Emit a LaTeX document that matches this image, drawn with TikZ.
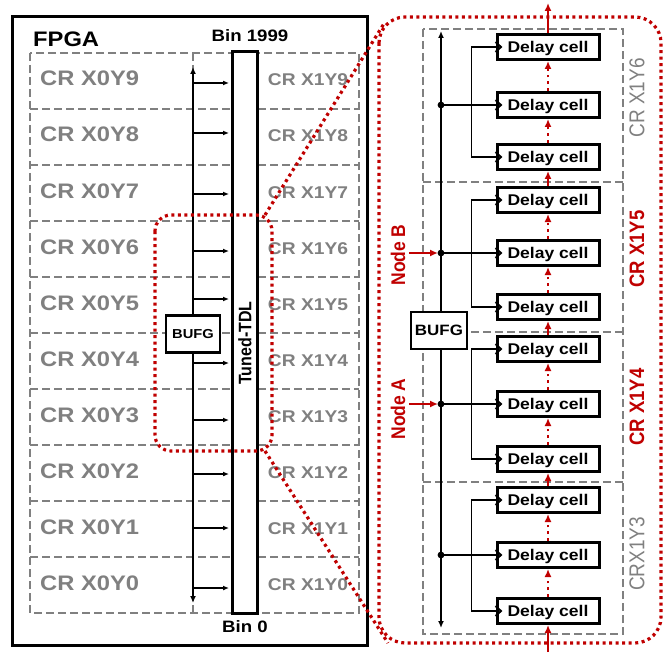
\documentclass[tikz,border=0pt]{standalone}
\usepackage{fontspec}
\setmainfont{Liberation Sans}
\usepackage{graphicx}
\usetikzlibrary{arrows.meta}
\definecolor{dred}{RGB}{192,0,0}
\definecolor{cgray}{RGB}{128,128,128}
\newcommand{\myhs}[1]{\scalebox{1.13}[1]{#1}}
\newcommand{\myvs}[1]{\scalebox{1}[1.13]{#1}}
\newcommand{\fsz}[1]{\fontsize{#1}{#1}\selectfont}
\begin{document}
\begin{tikzpicture}[x=1pt,y=-1pt,
  gdash/.style={draw=cgray, line width=2.4pt, dash pattern=on 8pt off 4pt},
  rdot/.style={draw=dred, line width=3.2pt, dash pattern=on 3pt off 3.5pt},
  rdotthin/.style={draw=dred, line width=2.8pt, dash pattern=on 2.8pt off 4pt},
  wire/.style={draw=black, line width=1.6pt},
  bus/.style={draw=black, line width=2.4pt},
  btip/.style={-{Latex[length=7pt,width=6pt]}},
  stip/.style={-{Latex[length=6pt,width=5pt]}},
  rtip/.style={-{Latex[length=8pt,width=7pt]}},
  cell/.style={draw, line width=3pt, fill=white, minimum width=102pt, minimum height=25pt, inner sep=0pt, text height=12pt, text depth=1.2pt, font=\bfseries\fsz{15.5}},
  bufg/.style={draw, line width=2.5pt, fill=white, inner sep=0pt, font=\bfseries},
  lgray/.style={text=cgray, inner sep=0pt, font=\bfseries\fsz{21}},
  rgray/.style={text=cgray, inner sep=0pt, font=\bfseries\fsz{17}},
  vlab/.style={rotate=90, inner sep=0pt, font=\fsz{19}},
  btxt/.style={inner sep=0pt, font=\bfseries}
]
\useasboundingbox (0,0) rectangle (668,652);
\fill[white] (0,0) rectangle (668,652);

% ---------------- left FPGA panel ----------------
\draw[line width=3pt] (12,17) rectangle (367,645);
\node[btxt, anchor=base west, font=\bfseries\fsz{21}] (fpga) at (33,47) {\myhs{FPGA}};
\node[btxt, anchor=base, font=\bfseries\fsz{16.5}] (bintop) at (250,42) {\myhs{Bin 1999}};
\node[btxt, anchor=base, font=\bfseries\fsz{16.5}] (binbot) at (245,632) {\myhs{Bin 0}};

% clock-region grid
\draw[gdash] (30,53) rectangle (359,613);
\foreach \k in {1,...,9} \draw[gdash] (30,53+56*\k) -- (359,53+56*\k);
\draw[gdash] (193,53) -- (193,613);

% labels
\foreach \r in {0,...,9} {
  \pgfmathtruncatemacro{\yy}{9-\r}
  \node[lgray, anchor=base west] (l\r) at (40,86+56*\r) {\myhs{CR X0Y\yy}};
  \node[rgray, anchor=base] (r\r) at (308,86+56*\r) {\myhs{CR X1Y\yy}};
}

% Tuned-TDL
\node[draw, line width=3pt, fill=white, minimum width=25pt, minimum height=561pt, inner sep=0pt] (tdl) at (244.5,332.5) {};
\node[rotate=90, btxt, font=\bfseries\fsz{16}] (tdllab) at (245,343) {\myvs{Tuned-TDL}};

% BUFG and bus
\node[bufg, minimum width=54pt, minimum height=37pt, font=\bfseries\fsz{13}] (bufgL) at (193,334) {\myhs{BUFG}};
\coordinate (busT) at (193,67);
\coordinate (busB) at (193,603);
\draw[bus, btip] (bufgL.north) -- (busT);
\draw[bus, btip] (bufgL.south) -- (busB);
\foreach \y [count=\i] in {83,133,194,251,299,363,420,474,528,588} {
  \coordinate (ha\i) at (193,\y);
  \coordinate (hb\i) at (tdl.west |- ha\i);
  \draw[wire, stip] (ha\i) -- ([xshift=-1.5pt]hb\i);
}

% ---------------- right detail panel ----------------
\draw[gdash] (423,29) rectangle (623,634);
\draw[gdash] (423,182) -- (623,182);
\draw[gdash] (423,332) -- (623,332);
\draw[gdash] (423,482) -- (623,482);

\node[bufg, minimum width=56pt, minimum height=37pt, font=\bfseries\fsz{15}] (bufgR) at (439,330.5) {\myhs{BUFG}};
\coordinate (rbusT) at (441,31);
\coordinate (rbusB) at (441,628);
\draw[bus, line width=2.6pt, btip] (bufgR.north -| rbusT) -- (rbusT);
\draw[bus, line width=2.6pt, btip] (bufgR.south -| rbusB) -- (rbusB);

\foreach \g/\a/\b/\c in {1/47/105/157, 2/200/253/307, 3/349/404/459, 4/500/555/611} {
  \node[cell] (c\g a) at (548,\a) {\myhs{Delay cell}};
  \node[cell] (c\g b) at (548,\b) {\myhs{Delay cell}};
  \node[cell] (c\g c) at (548,\c) {\myhs{Delay cell}};
  \coordinate (d\g) at (441,\b);
  \fill (d\g) circle (3.4pt);
  \draw[wire] (d\g) -- (c\g b.west);
  \draw[wire] (c\g a.west) -- ++(-24,0) |- (c\g c.west);
  \foreach \s in {a,b,c}
    \draw[line width=1.9pt] ([yshift=-5pt]c\g\s.west) -- ([xshift=5.5pt]c\g\s.west) -- ([yshift=5pt]c\g\s.west);
}

% red propagation chain
\coordinate (rin) at (548,652);
\coordinate (rout) at (548,3);
\draw[draw=dred, line width=2.5pt, rtip] (rin) -- (c4c.south);
\draw[rdotthin, rtip] (c4c.north) -- (c4b.south);
\draw[rdotthin, rtip] (c4b.north) -- (c4a.south);
\draw[draw=dred, line width=2.5pt, rtip] (c4a.north) -- (c3c.south);
\draw[rdotthin, rtip] (c3c.north) -- (c3b.south);
\draw[rdotthin, rtip] (c3b.north) -- (c3a.south);
\draw[draw=dred, line width=2.5pt, rtip] (c3a.north) -- (c2c.south);
\draw[rdotthin, rtip] (c2c.north) -- (c2b.south);
\draw[rdotthin, rtip] (c2b.north) -- (c2a.south);
\draw[draw=dred, line width=2.5pt, rtip] (c2a.north) -- (c1c.south);
\draw[rdotthin, rtip] (c1c.north) -- (c1b.south);
\draw[rdotthin, rtip] (c1b.north) -- (c1a.south);
\draw[draw=dred, line width=2.5pt, rtip] (c1a.north) -- (rout);

% node labels
\node[vlab, text=dred, font=\bfseries\fsz{17.5}] (nB) at (398,255) {\myvs{Node B}};
\node[vlab, text=dred, font=\bfseries\fsz{17.5}] (nA) at (398,409) {\myvs{Node A}};
\coordinate (nBs) at (409,253);
\coordinate (nAs) at (409,404);
\draw[draw=dred, line width=2.2pt, rtip, shorten >=3pt] (nBs) -- (d2);
\draw[draw=dred, line width=2.2pt, rtip, shorten >=3pt] (nAs) -- (d3);

% region labels
\node[vlab, text=cgray] (x6) at (637,98) {\myvs{CR X1Y6}};
\node[vlab, text=dred, font=\bfseries\fsz{18.5}] (x5) at (637,249) {\myvs{CR X1Y5}};
\node[vlab, text=dred, font=\bfseries\fsz{18.5}] (x4) at (637,407) {\myvs{CR X1Y4}};
\node[vlab, text=cgray] (x3) at (637,554) {\myvs{CRX1Y3}};

% ---------------- red zoom outlines ----------------
\draw[rdot, rounded corners=16pt] (155,215) rectangle (272,451);
\draw[rdot, rounded corners=26pt] (379,17) rectangle (661,643);
\coordinate (zt1) at (265,215);
\coordinate (zt2) at (385,22);
\coordinate (zb1) at (265,451);
\coordinate (zb2) at (388,643);
\draw[rdot] (zt1) -- (zt2);
\draw[rdot] (zb1) -- (zb2);
\end{tikzpicture}
\end{document}
